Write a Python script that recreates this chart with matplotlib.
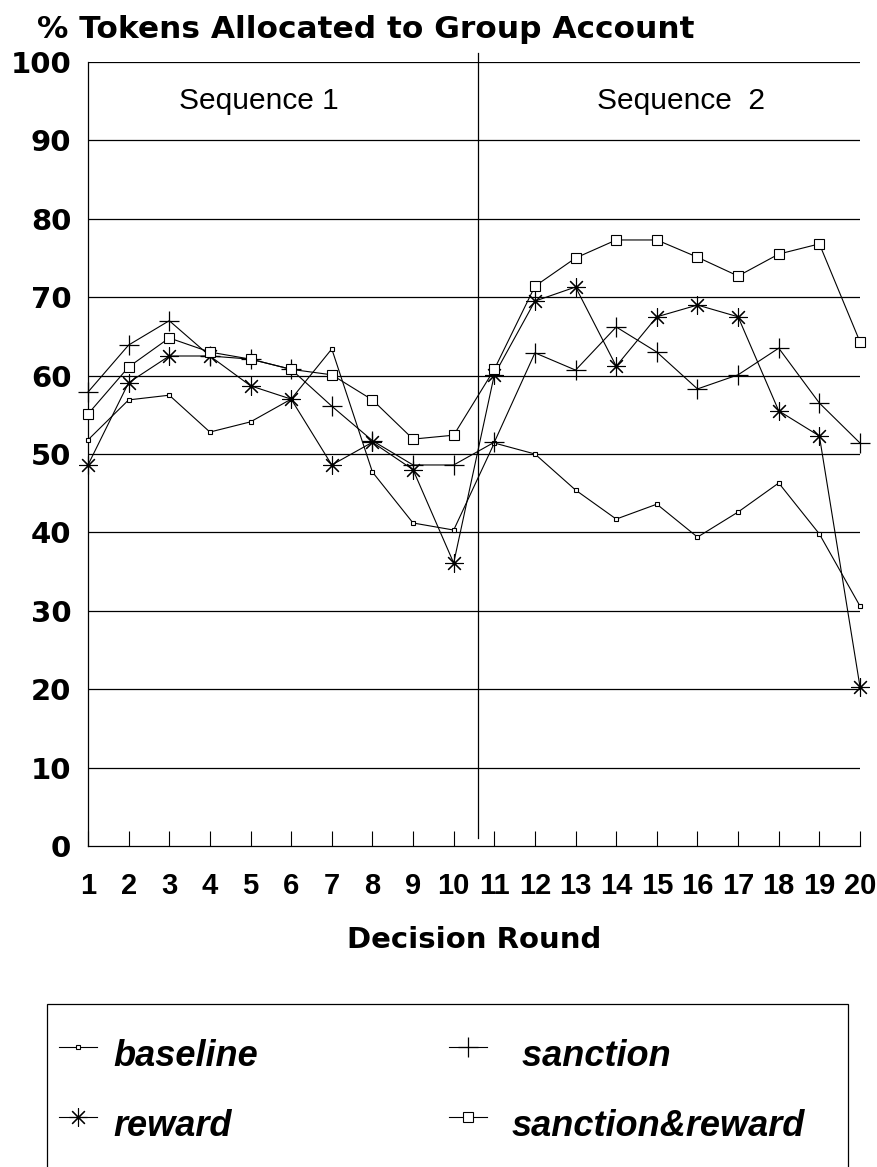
import matplotlib
matplotlib.use('Agg')
import matplotlib.pyplot as plt
from matplotlib.lines import Line2D
from matplotlib.patches import Rectangle


# Decision rounds 1-20 (sequence 1 = rounds 1-10, sequence 2 = rounds 11-20)
ROUNDS = list(range(1, 21))

# % tokens allocated to the group account
BASELINE = [51.8, 56.9, 57.5, 52.8, 54.1, 57.0, 63.4, 47.7, 41.2, 40.3,
            51.4, 50.0, 45.4, 41.7, 43.6, 39.4, 42.6, 46.3, 39.8, 30.6]
SANCTION = [57.9, 63.9, 67.0, 62.5, 62.1, 60.8, 56.1, 51.7, 48.6, 48.6,
            51.5, 62.9, 60.7, 66.2, 63.0, 58.3, 60.1, 63.5, 56.5, 51.4]
REWARD = [48.6, 59.1, 62.5, 62.5, 58.7, 57.0, 48.6, 51.5, 48.0, 36.1,
          60.1, 69.5, 71.3, 61.2, 67.5, 69.0, 67.5, 55.5, 52.3, 20.3]
SANCTION_REWARD = [55.1, 61.1, 64.8, 63.0, 62.1, 60.8, 60.1, 56.9, 51.9, 52.4,
                   60.8, 71.4, 75.0, 77.3, 77.3, 75.1, 72.7, 75.5, 76.8, 64.3]

Y_TICKS = [0, 10, 20, 30, 40, 50, 60, 70, 80, 90, 100]
SEQUENCE_BREAK = 10.6   # vertical line separating the two sequences

ASTERISK = (8, 2, 0)    # 8-armed asterisk marker
W, H = 878, 1167        # figure size in pixels


def fx(px):
    return px / W


def fy(py):
    return 1 - py / H


# marker styles shared by the plot and the legend
STYLES = {
    'baseline': dict(marker='s', ms=3.4, mfc='white', mec='black', mew=0.8),
    'sanction': dict(marker='+', ms=14, mew=0.9),
    'reward': dict(marker=ASTERISK, ms=13, mew=0.8),
    'sanction&reward': dict(marker='s', ms=7.5, mfc='white', mec='black', mew=0.8),
}

fig = plt.figure(figsize=(W / 100, H / 100), dpi=100)
ax = fig.add_axes([fx(88), fy(846), fx(860) - fx(88), fy(62) - fy(846)])

# horizontal gridlines
for y in Y_TICKS[1:]:
    ax.axhline(y, color='black', lw=0.9, zorder=1)

# the divider between the two sequences sticks out a little above the plot
ax.plot([SEQUENCE_BREAK, SEQUENCE_BREAK], [1, 101.2], color='black', lw=0.9,
        clip_on=False, zorder=1)

line_kw = dict(color='black', lw=0.8, clip_on=False, zorder=3)
ax.plot(ROUNDS, BASELINE, **STYLES['baseline'], **line_kw)
ax.plot(ROUNDS, SANCTION, **STYLES['sanction'], **line_kw)
ax.plot(ROUNDS, REWARD, **STYLES['reward'], **line_kw)
ax.plot(ROUNDS, SANCTION_REWARD, **STYLES['sanction&reward'], **line_kw)

ax.set_xlim(1, 20)
ax.set_ylim(0, 100)
ax.set_xticks(ROUNDS)
ax.set_yticks(Y_TICKS)
ax.tick_params(axis='x', direction='in', length=11, width=0.8, pad=19)
ax.tick_params(axis='y', length=0, pad=12)
for lbl in ax.get_xticklabels():
    lbl.set_family('Liberation Sans')
    lbl.set_fontweight('bold')
    lbl.set_fontsize(21)
for lbl in ax.get_yticklabels():
    lbl.set_family('DejaVu Sans')
    lbl.set_fontweight('bold')
    lbl.set_fontsize(21)

for side in ['top', 'right']:
    ax.spines[side].set_visible(False)
ax.spines['left'].set_linewidth(0.9)
ax.spines['bottom'].set_linewidth(0.9)

ax.text(5.2, 95, 'Sequence 1', ha='center', va='center', fontsize=21.5,
        family='Liberation Sans')
ax.text(15.6, 95, 'Sequence  2', ha='center', va='center', fontsize=21.5,
        family='Liberation Sans')

fig.text(fx(37), fy(29), '% Tokens Allocated to Group Account',
         ha='left', va='center', fontsize=22.5, fontweight='bold',
         family='DejaVu Sans')
fig.text(fx(474), fy(940), 'Decision Round', ha='center',
         va='center', fontsize=21, fontweight='bold', family='DejaVu Sans')

# legend drawn by hand so it sits in the same box as the original
fig.add_artist(Rectangle((fx(47), fy(1175)), fx(848) - fx(47), fy(1004) - fy(1175),
                         transform=fig.transFigure, fill=False,
                         edgecolor='black', lw=0.9))
legend_items = [
    ('baseline', 'baseline', 59, 113, 1047),
    ('sanction', ' sanction', 449, 512, 1047),
    ('reward', 'reward', 59, 113, 1117),
    ('sanction&reward', 'sanction&reward', 449, 512, 1117),
]
for key, label, hx, tx, ty in legend_items:
    fig.add_artist(Line2D([fx(hx), fx(hx + 38)], [fy(ty), fy(ty)],
                          transform=fig.transFigure, color='black', lw=0.8))
    fig.add_artist(Line2D([fx(hx + 19)], [fy(ty)], transform=fig.transFigure,
                          color='black', lw=0, **STYLES[key]))
    fig.text(fx(tx), fy(ty + 19), label, ha='left', va='baseline',
             fontsize=26, fontweight='bold', fontstyle='italic',
             family='Liberation Sans')

fig.savefig('out.png', dpi=100)
